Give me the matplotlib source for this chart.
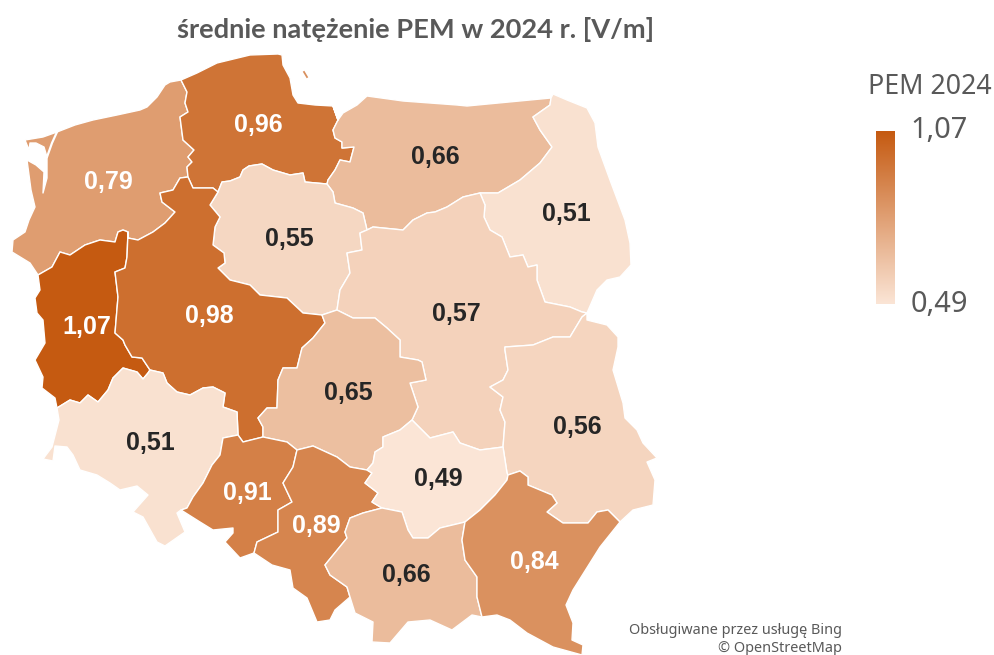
import numpy as np
import matplotlib
matplotlib.use("Agg")
import matplotlib.pyplot as plt
from matplotlib.patches import Polygon
from matplotlib.colors import LinearSegmentedColormap, Normalize

title = "średnie natężenie PEM w 2024 r. [V/m]"
legend_title = "PEM 2024"
credit_lines = ["Obsługiwane przez usługę Bing", "© OpenStreetMap"]

regions = ["ZP", "PM", "WM", "PD", "KP", "MZ", "LB", "WP", "LD", "LU", "DS", "OP", "SL", "SK", "MP", "PK"]
pem_values = [0.79, 0.96, 0.66, 0.51, 0.55, 0.57, 1.07, 0.98, 0.65, 0.56, 0.51, 0.91, 0.89, 0.49, 0.66, 0.84]
value_labels = ["0,79", "0,96", "0,66", "0,51", "0,55", "0,57", "1,07", "0,98", "0,65", "0,56", "0,51", "0,91", "0,89", "0,49", "0,66", "0,84"]
label_xy = [(108, 182), (258, 125), (435, 157), (566, 214), (289, 239), (456, 314), (87, 327), (209, 316),
            (348, 393), (577, 427), (150, 443), (247, 493), (316, 526), (438, 479), (406, 575), (534, 562)]

# Shared boundary lines of the voivodeships (map geometry, in picture units)
arcs = {
 "zp_coast": [(38,275),(30,263),(12,252),(13,240),(25,232),(29,220),(35,207),(31,190),(27,160),(36,165),(44,172),(43,193),
              (47,178),(47,163),(47,157),(44,147),(36,143),(30,143),(29,150),(25,140),(43,137),(57,132),(75,125),(93,120),(117,115),(140,110),
              (147,107),(157,97),(165,85),(170,82),(181,80)],
 "zp_pm": [(181,80),(187,92),(185,103),(188,112),(180,117),(183,140),(194,150),(188,157),(192,162),(187,167),(188,177)],
 "zp_wp": [(188,177),(180,178),(173,190),(160,193),(162,202),(175,212),(165,223),(153,232),(138,240),(128,238),(128,232)],
 "zp_lb": [(128,232),(123,230),(118,232),(115,242),(100,240),(85,245),(70,255),(60,252),(52,267),(38,275)],
 "pm_coast": [(181,80),(197,73),(217,63),(250,55),(278,54),(282,55),(283,65),(290,78),(293,95),(298,103),(315,105),(333,106)],
 "pm_wm": [(333,106),(338,120),(333,130),(335,138),(342,142),(342,148),(354,147),(350,162),(340,160),(335,170),(328,180),(327,184)],
 "pm_wp": [(188,177),(193,188),(213,188),(218,192)],
 "pm_kp": [(218,192),(222,182),(230,181),(240,177),(243,170),(249,166),(262,164),(273,170),(290,175),(303,173),(305,182),(327,184)],
 "wm_coast": [(338,120),(343,113),(357,105),(367,96),(403,101),(457,105),(467,106),(551,98)],
 "wm_kp": [(327,184),(333,192),(335,203),(353,208),(363,213),(367,230)],
 "wm_mz": [(367,230),(373,227),(403,230),(413,220),(427,213),(435,212),(447,207),(463,197),(480,193)],
 "wm_pd": [(480,193),(498,193),(520,180),(540,163),(552,147),(540,130),(533,117),(550,105),(551,98)],
 "pd_out": [(551,98),(553,94),(567,100),(587,108),(595,123),(598,147),(610,180),(625,220),(630,243),(631,265),(620,277),(607,280),(597,290),(587,313)],
 "pd_mz": [(480,193),(485,205),(484,217),(490,230),(502,237),(510,257),(523,255),(528,267),(537,265),(537,280),(545,302),(570,307),(582,312),(587,313)],
 "kp_mz": [(367,230),(360,233),(362,250),(347,253),(350,273),(340,290),(337,310)],
 "kp_ld": [(337,310),(322,315)],
 "wp_kp": [(218,192),(210,205),(220,217),(215,227),(213,245),(224,253),(225,263),(218,268),(230,280),(250,285),(260,295),(287,298),(303,313),(322,315)],
 "wp_ld": [(322,315),(325,323),(313,338),(302,348),(297,368),(283,368),(278,380),(277,408),(267,408),(258,418),(263,427),(263,437)],
 "lb_wp": [(128,232),(127,257),(125,268),(115,272),(118,297),(115,333),(123,340),(125,345),(132,357),(142,358),(150,370)],
 "lb_ds": [(150,370),(148,373),(143,379),(137,372),(123,368),(113,378),(108,390),(98,402),(88,395),(80,403),(70,400),(57,408)],
 "lb_out": [(38,275),(40,290),(35,298),(37,313),(43,320),(45,343),(35,360),(43,377),(42,388),(55,398),(57,408)],
 "ds_out": [(57,408),(59,420),(52,447),(43,459),(53,461),(55,446),(67,447),(73,455),(80,470),(97,475),(110,483),(120,490),(137,486),(148,495),
            (133,512),(143,517),(157,542),(165,546),(185,532),(177,513),(181,510)],
 "ds_wp": [(150,370),(163,373),(167,383),(177,392),(190,395),(203,388),(213,387),(225,393),(223,407),(237,412),(238,435)],
 "ds_op": [(238,435),(223,438),(220,455),(212,465),(203,483),(193,497),(187,508),(181,510)],
 "op_wp": [(238,435),(243,442),(263,437)],
 "op_ld": [(263,437),(287,442),(297,450)],
 "op_sl": [(297,450),(293,467),(283,483),(292,502),(278,510),(278,532),(257,542),(254,553)],
 "op_out": [(181,510),(200,522),(213,530),(233,528),(233,533),(225,542),(240,558),(254,553)],
 "sl_out": [(254,553),(272,565),(290,570),(293,588),(307,598),(317,622),(330,620),(335,610),(350,597)],
 "sl_mp": [(382,508),(363,513),(350,518),(345,532),(347,538),(325,565),(330,575),(347,587),(350,597)],
 "ld_sl": [(297,450),(313,446),(337,457),(350,467),(367,470)],
 "sk_sl": [(367,470),(372,473),(365,483),(378,493),(372,502),(382,508)],
 "ld_sk": [(412,420),(400,430),(383,437),(383,447),(375,452),(373,463),(367,470)],
 "ld_mz": [(337,310),(353,318),(375,318),(387,328),(400,340),(400,357),(418,360),(422,362),(426,380),(410,383),(418,407),(412,420)],
 "mz_sk": [(412,420),(420,428),(430,438),(453,432),(460,443),(480,450),(503,447)],
 "mz_lu": [(587,313),(582,317),(570,337),(553,337),(533,345),(505,347),(505,350),(508,370),(503,380),(490,387),(503,397),(500,410),(505,422),(503,447)],
 "sk_mp": [(382,508),(402,512),(408,530),(413,538),(428,538),(440,528),(465,522)],
 "sk_pk": [(465,522),(480,510),(495,495),(507,480),(508,475)],
 "sk_lu": [(503,447),(507,473),(508,475)],
 "lu_pk": [(508,475),(520,471),(528,477),(528,485),(552,495),(557,503),(547,512),(563,523),(588,523),(597,512),(608,510),(620,522)],
 "lu_out": [(587,313),(587,320),(607,325),(618,337),(618,347),(613,370),(623,403),(625,418),(637,430),(643,443),(657,458),(647,462),(655,480),(653,505),(633,510),(620,522)],
 "pk_out": [(620,522),(600,547),(573,590),(566,605),(573,623),(572,640),(583,645),(582,655),(553,647),(527,633),(510,620),(497,615),(482,617)],
 "mp_pk": [(465,522),(462,540),(465,560),(477,577),(477,597),(482,617)],
 "mp_out": [(350,597),(355,613),(373,622),(372,642),(390,643),(408,622),(430,620),(452,630),(472,615),(482,617)],
}
arcs["kp_ld_rev"] = arcs["kp_ld"][::-1]

rings = {
 "ZP": ["zp_coast", "zp_pm", "zp_wp", "zp_lb"],
 "PM": ["pm_coast", "pm_wm", "-pm_kp", "-pm_wp", "-zp_pm"],
 "WM": ["wm_coast", "-wm_pd", "-wm_mz", "-wm_kp", "-pm_wm"],
 "PD": ["pd_out", "-pd_mz", "wm_pd"],
 "KP": ["pm_kp", "wm_kp", "kp_mz", "kp_ld", "-wp_kp"],
 "MZ": ["wm_mz", "pd_mz", "mz_lu", "-mz_sk", "-ld_mz", "-kp_mz"],
 "LB": ["-zp_lb", "lb_wp", "lb_ds", "-lb_out"],
 "WP": ["pm_wp", "wp_kp", "wp_ld", "-op_wp", "-ds_wp", "-lb_wp", "-zp_wp"],
 "LD": ["kp_ld_rev", "ld_mz", "ld_sk", "-ld_sl", "-op_ld", "-wp_ld"],
 "LU": ["lu_out", "-lu_pk", "-sk_lu", "-mz_lu"],
 "DS": ["-lb_ds", "ds_wp", "ds_op", "-ds_out"],
 "OP": ["-ds_op", "op_wp", "op_ld", "op_sl", "-op_out"],
 "SL": ["-op_sl", "ld_sl", "sk_sl", "sl_mp", "-sl_out"],
 "SK": ["-ld_sk", "mz_sk", "sk_lu", "-sk_pk", "-sk_mp", "-sk_sl"],
 "MP": ["-sl_mp", "sk_mp", "mp_pk", "-mp_out"],
 "PK": ["sk_pk", "lu_pk", "pk_out", "-mp_pk"],
}


def ring_points(names):
    pts = []
    for n in names:
        seq = arcs[n[1:]][::-1] if n.startswith("-") else arcs[n]
        pts.extend(seq)
    return pts


W, H = 995, 655
fig = plt.figure(figsize=(W / 100, H / 100), dpi=100, facecolor="white")
ax = fig.add_axes([0, 0, 1, 1])
ax.set_xlim(0, W)
ax.set_ylim(H, 0)
ax.axis("off")

cmap = LinearSegmentedColormap.from_list("pem", ["#FBE5D6", "#C55A11"])
norm = Normalize(vmin=min(pem_values), vmax=max(pem_values))

for name, val in zip(regions, pem_values):
    ax.add_patch(Polygon(ring_points(rings[name]), closed=True, facecolor=cmap(norm(val)),
                         edgecolor="white", linewidth=1.0, joinstyle="round", zorder=2))

# Narrow channel at the Szczecin Lagoon and the Hel peninsula
ax.plot([47, 52, 57], [157, 143, 132], color="white", lw=1.6, zorder=3)
ax.plot([304, 307], [72, 77], color=cmap(norm(0.96)), lw=1.3, alpha=0.8, zorder=3)

for txt, (x, y), val in zip(value_labels, label_xy, pem_values):
    ax.text(x, y, txt, ha="center", va="center", fontsize=18, fontweight="bold", family="Liberation Sans",
            color="white" if norm(val) > 0.45 else "#262626", zorder=4)

ax.text(416, 29, title, ha="center", va="center", fontsize=19.6, fontweight="bold", family="Lato", color="#595959")

grad = np.linspace(1, 0, 256).reshape(-1, 1)
ax.imshow(grad, cmap=cmap, extent=(876, 895, 304, 131), aspect="auto", vmin=0, vmax=1, zorder=2)
ax.set_xlim(0, W)
ax.set_ylim(H, 0)
ax.text(930, 87, legend_title, ha="center", va="center", fontsize=19.3, family="Noto Sans", color="#595959")
ax.text(939, 131, f"{max(pem_values):.2f}".replace(".", ","), ha="center", va="center", fontsize=20.8, family="Noto Sans", color="#595959")
ax.text(939, 305, f"{min(pem_values):.2f}".replace(".", ","), ha="center", va="center", fontsize=20.8, family="Noto Sans", color="#595959")

for line, y in zip(credit_lines, (630, 648)):
    ax.text(842, y, line, ha="right", va="center", fontsize=10.4, family="Noto Sans", color="#595959")

fig.savefig("out.png", dpi=100, facecolor="white")
